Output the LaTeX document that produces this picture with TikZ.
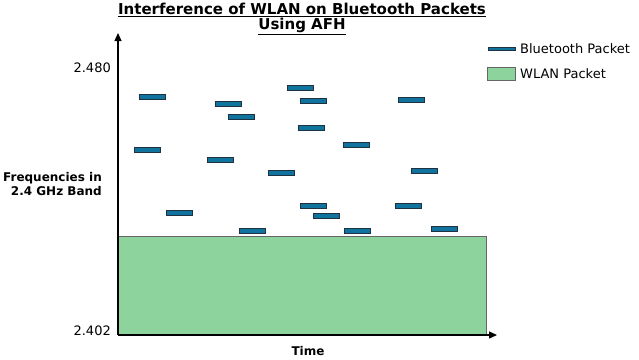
\documentclass[tikz,border=0pt]{standalone}
\usepackage{fontspec}
\setmainfont{DejaVu Sans}
\usepackage{xcolor}
\usepackage{tikz}
\usetikzlibrary{arrows.meta,positioning}

\definecolor{btblue}{RGB}{16,115,158}
\definecolor{btedge}{RGB}{30,50,65}
\definecolor{wlangreen}{RGB}{141,211,158}

\begin{document}
\begin{tikzpicture}[
  x=1pt,y=-1pt,
  packet/.style={draw=btedge,fill=btblue,line width=1pt,inner sep=0pt,minimum width=26pt,minimum height=5pt},
  wlan/.style={draw=black!60,fill=wlangreen,line width=0.8pt,inner sep=0pt},
  axis/.style={-{Triangle[length=8pt,width=7pt]},line width=1.2pt},
  tick/.style={font=\fontsize{13}{15}\selectfont,anchor=east,inner sep=0pt},
  axislabel/.style={font=\fontsize{12}{13.5}\selectfont\bfseries,inner sep=0pt},
  legendtext/.style={font=\fontsize{13}{15}\selectfont,anchor=west,inner sep=0pt}
]
\useasboundingbox (0,0) rectangle (639,359);

% title
\node[font=\fontsize{15}{15.5}\selectfont\bfseries,align=center,inner sep=0pt] (title) at (302,19)
  {\underline{Interference of WLAN on Bluetooth Packets}\\\underline{Using AFH}};

% wlan block and axes
\coordinate (origin) at (118,335);
\coordinate (ytop) at (118,33);
\coordinate (xend) at (497,335);
\node[wlan,anchor=south west,minimum width=368pt,minimum height=98pt] (wlanband) at (origin) {};
\draw[axis] (origin) -- (ytop);
\draw[axis] (origin) -- (xend);

\node[tick] (fhigh) at (111,68) {2.480};
\node[tick] (flow) at (111,331) {2.402};
\node[axislabel,align=right,anchor=east] (ylabel) at (102,184) {Frequencies in\\2.4 GHz Band};
\node[axislabel] (xlabel) at (308,351) {Time};

% bluetooth packets
\node[packet] (bt1) at (152.7,97) {};
\node[packet] (bt2) at (228,103.5) {};
\node[packet] (bt3) at (241,116.5) {};
\node[packet] (bt4) at (300,88) {};
\node[packet] (bt5) at (147,150) {};
\node[packet] (bt6) at (220.7,160) {};
\node[packet] (bt7) at (281.7,173) {};
\node[packet] (bt8) at (179,212.7) {};
\node[packet] (bt9) at (252.8,231) {};
\node[packet] (bt10) at (313.5,101) {};
\node[packet] (bt11) at (411.3,100) {};
\node[packet] (bt12) at (311.8,128) {};
\node[packet] (bt13) at (356.7,145) {};
\node[packet] (bt14) at (424.5,171) {};
\node[packet] (bt15) at (313.7,206) {};
\node[packet] (bt16) at (408.2,206) {};
\node[packet] (bt17) at (326.2,216) {};
\node[packet] (bt18) at (357.7,231) {};
\node[packet] (bt19) at (444.7,228.7) {};

% legend
\node[packet,minimum width=27pt,minimum height=3.5pt] (keybt) at (501.5,49) {};
\node[legendtext] (keybttext) at (520,49) {Bluetooth Packet};
\node[wlan,minimum width=28pt,minimum height=13pt] (keywlan) at (501,73.5) {};
\node[legendtext] (keywlantext) at (520,73.5) {WLAN Packet};
\end{tikzpicture}
\end{document}
